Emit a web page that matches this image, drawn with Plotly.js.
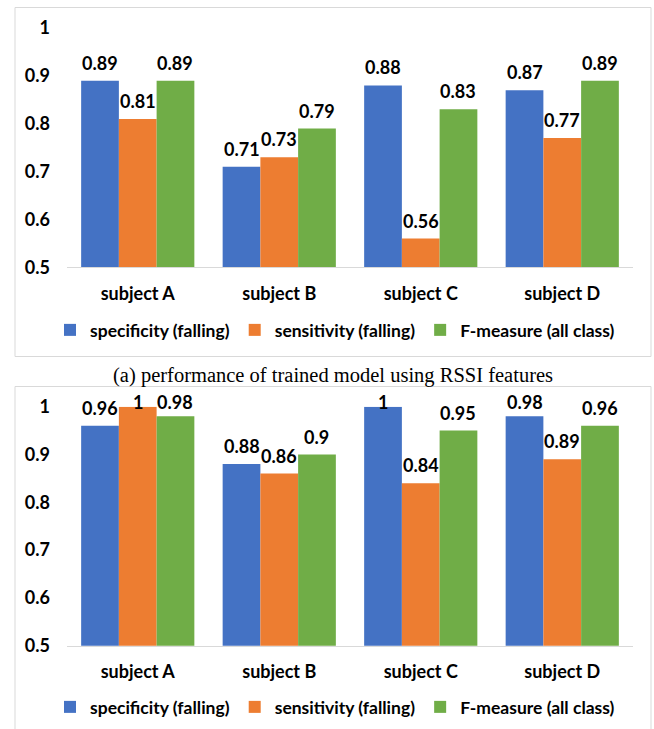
<!DOCTYPE html>
<html>
<head>
<meta charset="utf-8">
<script src="https://cdn.plot.ly/plotly-3.0.1.min.js"></script>
<style>
html,body{margin:0;padding:0;background:#fff;}
#chart{width:654px;height:729px;}
</style>
</head>
<body>
<div id="chart"></div>
<script>
const categories = ['subject A', 'subject B', 'subject C', 'subject D'];
const seriesNames = ['specificity (falling)', 'sensitivity (falling)', 'F-measure (all class)'];
const seriesColors = ['#4472C4', '#ED7D31', '#70AD47'];
// (a) RSSI features
const rssiSpecificity = [0.89, 0.71, 0.88, 0.87];
const rssiSensitivity = [0.81, 0.73, 0.56, 0.77];
const rssiFmeasure = [0.89, 0.79, 0.83, 0.89];
// second chart
const otherSpecificity = [0.96, 0.88, 1, 0.98];
const otherSensitivity = [1, 0.86, 0.84, 0.89];
const otherFmeasure = [0.98, 0.9, 0.95, 0.96];
const yTickVals = [0.5, 0.6, 0.7, 0.8, 0.9, 1];
const yTickText = ['0.5', '0.6', '0.7', '0.8', '0.9', '1'];
const captionText = '(a) performance of trained model using RSSI features';

const W = 654, H = 729;
const FONT = 'Lato, "Open Sans", sans-serif';
const FS = 18;
const plotLeft = 67, plotRight = 633;
const bargap = 0.2;
const barPx = (plotRight - plotLeft) / categories.length * (1 - bargap) / seriesNames.length;
const pxPerUnit = 478;

const groupsTop = [rssiSpecificity, rssiSensitivity, rssiFmeasure];
const groupsBottom = [otherSpecificity, otherSensitivity, otherFmeasure];

const traces = [];
const annotations = [];
function addChart(groups, xa, ya, legendName) {
  groups.forEach((vals, i) => {
    traces.push({
      type: 'bar', x: categories, y: vals, name: seriesNames[i],
      marker: {color: seriesColors[i]}, xaxis: xa, yaxis: ya,
      legend: legendName, showlegend: true, hoverinfo: 'skip'
    });
    vals.forEach((v, j) => {
      annotations.push({
        x: categories[j], y: v,
        xref: xa, yref: ya, xshift: (i - 1) * barPx,
        yshift: Math.min(18, (1.0105 - v) * pxPerUnit),
        yanchor: 'middle', showarrow: false,
        text: String(v), font: {family: FONT, size: FS, color: '#000', weight: 'bold'}
      });
    });
  });
}
addChart(groupsTop, 'x', 'y', 'legend');
addChart(groupsBottom, 'x2', 'y2', 'legend2');

annotations.push({
  xref: 'paper', yref: 'paper', x: 333 / W, y: 1 - 376 / H,
  xanchor: 'center', yanchor: 'middle', showarrow: false,
  text: captionText, font: {family: '"Liberation Serif", "Times New Roman", serif', size: 20.5, color: '#000'}
});

const xaxisBase = {
  type: 'category', showline: true, linecolor: '#d9d9d9', linewidth: 1,
  ticks: '', showgrid: false, zeroline: false, ticklabelstandoff: 10,
  tickfont: {family: FONT, size: FS, color: '#000', weight: 'bold'},
  domain: [plotLeft / W, plotRight / W], fixedrange: true
};
const yaxisBase = {
  range: [0.5, 1], tickvals: yTickVals, ticktext: yTickText,
  showline: false, showgrid: false, zeroline: false, ticks: '',
  ticklabelstandoff: 16,
  tickfont: {family: FONT, size: FS, color: '#000', weight: 'bold'}, fixedrange: true
};
const legendBase = {
  orientation: 'h', xanchor: 'center', yanchor: 'middle', x: 335 / W,
  font: {family: FONT, size: 17.5, color: '#000', weight: 'bold'},
  bgcolor: 'rgba(0,0,0,0)', itemclick: false, itemdoubleclick: false
};

const layout = {
  width: W, height: H, margin: {l: 0, r: 0, t: 0, b: 0},
  paper_bgcolor: '#fff', plot_bgcolor: '#fff',
  barmode: 'group', bargap: bargap, bargroupgap: 0,
  xaxis: Object.assign({}, xaxisBase, {anchor: 'y'}),
  yaxis: Object.assign({}, yaxisBase, {anchor: 'x', domain: [1 - 267.3 / H, 1 - 28 / H]}),
  xaxis2: Object.assign({}, xaxisBase, {anchor: 'y2'}),
  yaxis2: Object.assign({}, yaxisBase, {anchor: 'x2', domain: [1 - 645.7 / H, 1 - 406.7 / H]}),
  legend: Object.assign({}, legendBase, {y: 1 - 330 / H}),
  legend2: Object.assign({}, legendBase, {y: 1 - 707 / H}),
  annotations: annotations,
  shapes: [
    {type: 'rect', xref: 'paper', yref: 'paper', x0: 15 / W, x1: 651 / W, y0: 1 - 356.5 / H, y1: 1 - 7.5 / H,
     line: {color: '#d9d9d9', width: 1}, fillcolor: 'rgba(0,0,0,0)', layer: 'below'},
    {type: 'rect', xref: 'paper', yref: 'paper', x0: 15 / W, x1: 651 / W, y0: -0.05, y1: 1 - 386.5 / H,
     line: {color: '#d9d9d9', width: 1}, fillcolor: 'rgba(0,0,0,0)', layer: 'below'}
  ],
  showlegend: true
};

Plotly.newPlot('chart', traces, layout, {displayModeBar: false, staticPlot: true});
</script>
</body>
</html>
